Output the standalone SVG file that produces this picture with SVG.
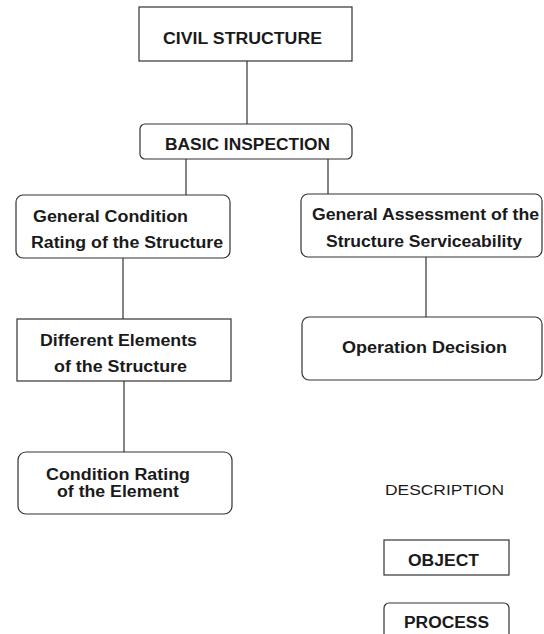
<svg xmlns="http://www.w3.org/2000/svg" width="544" height="634" viewBox="0 0 544 634">
<style>
.box{fill:#fff;stroke:#333;stroke-width:1.2}
.t{font-family:"Liberation Sans",Arial,sans-serif;font-weight:bold;font-size:16px;fill:#1a1a1a}
.n{font-family:"Liberation Sans",Arial,sans-serif;font-size:14px;fill:#1a1a1a}
.c{stroke:#333;stroke-width:1.2;fill:none}
</style>
<rect width="544" height="634" fill="#fff"/>
<g id="connectors">
<line class="c" x1="247" y1="61" x2="247" y2="124"/>
<line class="c" x1="186" y1="159" x2="186" y2="195"/>
<line class="c" x1="328" y1="159" x2="328" y2="194"/>
<line class="c" x1="123" y1="258" x2="123" y2="319"/>
<line class="c" x1="426" y1="257" x2="426" y2="317"/>
<line class="c" x1="124" y1="381" x2="124" y2="452"/>
</g>
<g id="civil">
<rect class="box" x="139" y="7" width="213" height="54"/>
<text class="t" x="163" y="44" textLength="159" lengthAdjust="spacingAndGlyphs">CIVIL STRUCTURE</text>
</g>
<g id="basic">
<rect class="box" x="140" y="124" width="212" height="35" rx="5"/>
<text class="t" x="165" y="150" textLength="165" lengthAdjust="spacingAndGlyphs">BASIC INSPECTION</text>
</g>
<g id="general-condition">
<rect class="box" x="16" y="195" width="214" height="63" rx="7"/>
<text class="t" x="33" y="222" textLength="155" lengthAdjust="spacingAndGlyphs">General Condition</text>
<text class="t" x="31" y="248" textLength="192" lengthAdjust="spacingAndGlyphs">Rating of the Structure</text>
</g>
<g id="general-assessment">
<rect class="box" x="301" y="194" width="241" height="63" rx="7"/>
<text class="t" x="312" y="220" textLength="227" lengthAdjust="spacingAndGlyphs">General Assessment of the</text>
<text class="t" x="326" y="247" textLength="196" lengthAdjust="spacingAndGlyphs">Structure Serviceability</text>
</g>
<g id="different-elements">
<rect class="box" x="17" y="319" width="214" height="62"/>
<text class="t" x="40" y="346" textLength="157" lengthAdjust="spacingAndGlyphs">Different Elements</text>
<text class="t" x="54" y="372" textLength="133" lengthAdjust="spacingAndGlyphs">of the Structure</text>
</g>
<g id="operation-decision">
<rect class="box" x="302" y="317" width="240" height="63" rx="7"/>
<text class="t" x="342" y="353" textLength="165" lengthAdjust="spacingAndGlyphs">Operation  Decision</text>
</g>
<g id="condition-rating">
<rect class="box" x="18" y="452" width="214" height="62" rx="8"/>
<text class="t" x="46" y="480" textLength="144" lengthAdjust="spacingAndGlyphs">Condition Rating</text>
<text class="t" x="57" y="497" textLength="122" lengthAdjust="spacingAndGlyphs">of the Element</text>
</g>
<g id="legend">
<text class="n" x="385" y="495" textLength="119" lengthAdjust="spacingAndGlyphs">DESCRIPTION</text>
<g id="legend-object">
<rect class="box" x="384" y="540" width="125" height="35"/>
<text class="t" x="408" y="566" textLength="71" lengthAdjust="spacingAndGlyphs">OBJECT</text>
</g>
<g id="legend-process">
<rect class="box" x="384" y="603" width="125" height="40" rx="5"/>
<text class="t" x="404" y="628" textLength="85" lengthAdjust="spacingAndGlyphs">PROCESS</text>
</g>
</g>
</svg>
